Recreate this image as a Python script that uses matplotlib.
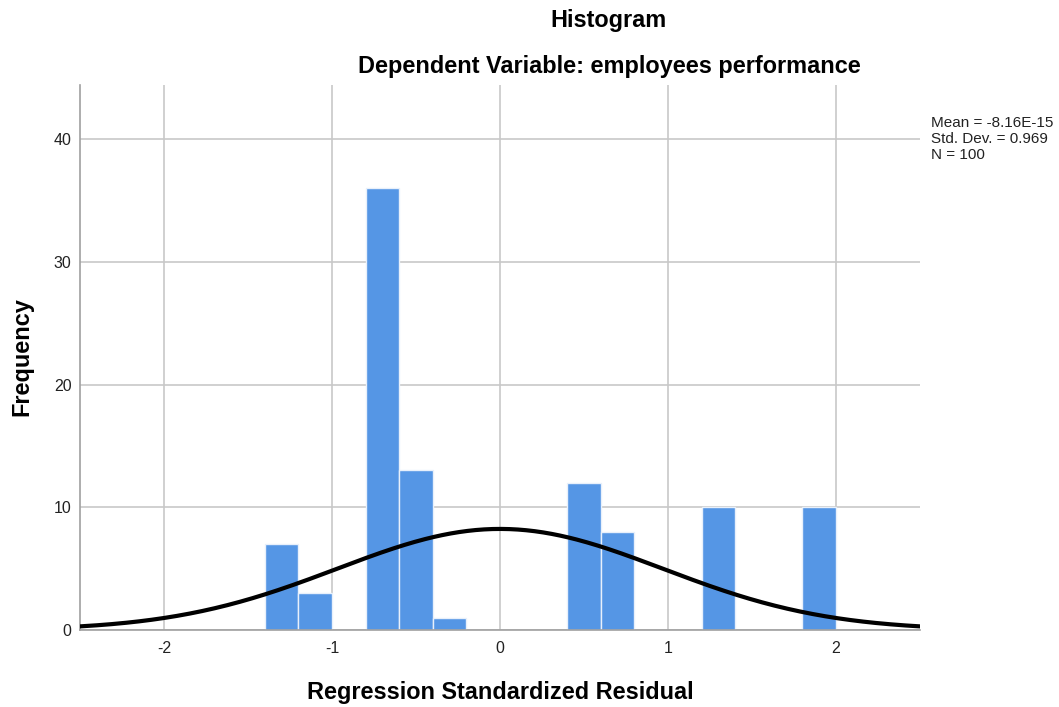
import numpy as np
import matplotlib
matplotlib.use("Agg")
import matplotlib.pyplot as plt

plt.rcParams['font.family'] = ['Liberation Sans', 'DejaVu Sans']

bin_left = [-1.4, -1.2, -0.8, -0.6, -0.4, 0.4, 0.6, 1.2, 1.8]
freq = [7, 3, 36, 13, 1, 12, 8, 10, 10]
bin_width = 0.2
mean_val = -8.16e-15
std_val = 0.969
n_val = 100
x_ticks = [-2, -1, 0, 1, 2]
y_ticks = [0, 10, 20, 30, 40]

fig = plt.figure(figsize=(10.59, 7.07), dpi=100)
ax = fig.add_axes([80/1059, 77/707, 840/1059, 545/707])

ax.bar(bin_left, freq, width=bin_width, align='edge', color='#5596e5',
       edgecolor='#e8f0fb', linewidth=1.0, zorder=2)

xs = np.linspace(-2.5, 2.5, 400)
pdf = n_val * bin_width * np.exp(-0.5 * ((xs - mean_val) / std_val) ** 2) / (std_val * np.sqrt(2 * np.pi))
ax.plot(xs, pdf, color='black', lw=3.0, zorder=3, solid_capstyle='round')

ax.set_xlim(-2.5, 2.5)
ax.set_ylim(0, 44.4)
ax.set_xticks(x_ticks)
ax.set_yticks(y_ticks)
ax.set_xticklabels([str(t) for t in x_ticks])
ax.grid(True, color='#c8c8c8', lw=1.2, zorder=0)
ax.set_axisbelow(True)
for s in ['top', 'right']:
    ax.spines[s].set_visible(False)
for s in ['left', 'bottom']:
    ax.spines[s].set_color('#a0a0a0')
    ax.spines[s].set_linewidth(1.2)
ax.tick_params(axis='both', length=0, labelsize=11.5, colors='#222222')
ax.tick_params(axis='x', pad=8)
ax.tick_params(axis='y', pad=6)

ax.set_xlabel('Regression Standardized Residual', fontsize=16.9, fontweight='bold', labelpad=18)
fig.text(22/1059, 1 - 357/707, 'Frequency', rotation=90, ha='center', va='center',
         fontsize=16.9, fontweight='bold')

fig.text(609/1059, 1 - 20/707, 'Histogram', ha='center', va='center', fontsize=16.9, fontweight='bold')
fig.text(609/1059, 1 - 66/707, 'Dependent Variable: employees performance', ha='center', va='center',
         fontsize=16.9, fontweight='bold')
fig.text(931/1059, 1 - 116/707,
         'Mean = -8.16E-15\nStd. Dev. = 0.969\nN = 100',
         ha='left', va='top', fontsize=11, color='#222222', linespacing=1.2)

fig.savefig('out.png', dpi=100)
